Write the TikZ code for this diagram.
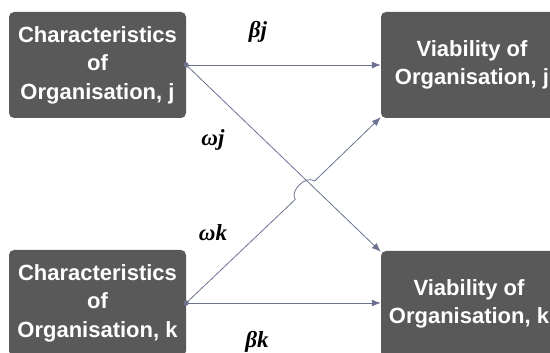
\documentclass[tikz,border=0pt]{standalone}
\usepackage{fontspec}
\setmainfont{Liberation Sans}
\newfontfamily\labelfont{Liberation Serif}
\usetikzlibrary{arrows.meta,calc}
\definecolor{boxgray}{HTML}{595959}
\definecolor{linkblue}{HTML}{6B7391}

\begin{document}
\begin{tikzpicture}[x=1pt,y=1pt,
		orgbox/.style={rectangle,rounded corners=5pt,fill=boxgray,text=white,
			font=\fontsize{22}{28.5}\selectfont\bfseries,align=center,
			minimum width=177pt,minimum height=106pt,inner sep=0pt},
		link/.style={draw=linkblue,line width=0.8pt,-{Latex[length=9pt,width=7pt]}},
		weight/.style={font=\fontsize{23}{24}\selectfont\labelfont\bfseries\itshape}]
		\useasboundingbox (0,0) rectangle (550,353);
		\clip (0,0) rectangle (550,353);
		\node[orgbox] (cj) at (97.5,288) {Characteristics\\of\\Organisation, j};
		\node[orgbox] (ck) at (97.5,50) {Characteristics\\of\\Organisation, k};
		\node[orgbox,minimum width=182pt] (vj) at (472,288) {Viability of\\Organisation, j};
		\node[orgbox,minimum width=176pt] (vk) at (469,49) {Viability of\\Organisation, k};
		\node[weight] (bj) at (258,321) {βj};
		\node[weight] (wj) at (213,213) {ωj};
		\node[weight] (wk) at (213,120) {ωk};
		\node[weight] (bk) at (257,11) {βk};
		% hop where the two diagonals cross
		\coordinate (h1) at ($(ck.east)!0.56!(vj.south west)$);
		\coordinate (h2) at ($(ck.east)!0.66!(vj.south west)$);
		\fill[linkblue] (cj.east) circle (2.6pt);
		\fill[linkblue] (ck.east) circle (2.6pt);
		\path[link] (cj.east) -- (vj.west);
		\path[link] (cj.east) -- ($(vk.north west)+(0,-1)$);
		\path[link] (ck.east) -- (h1) to[bend left=80] (h2) -- ($(vj.south west)+(0,1)$);
		\path[link] (ck.east) -- (ck.east -| vk.west);
	\end{tikzpicture}
\end{document}
